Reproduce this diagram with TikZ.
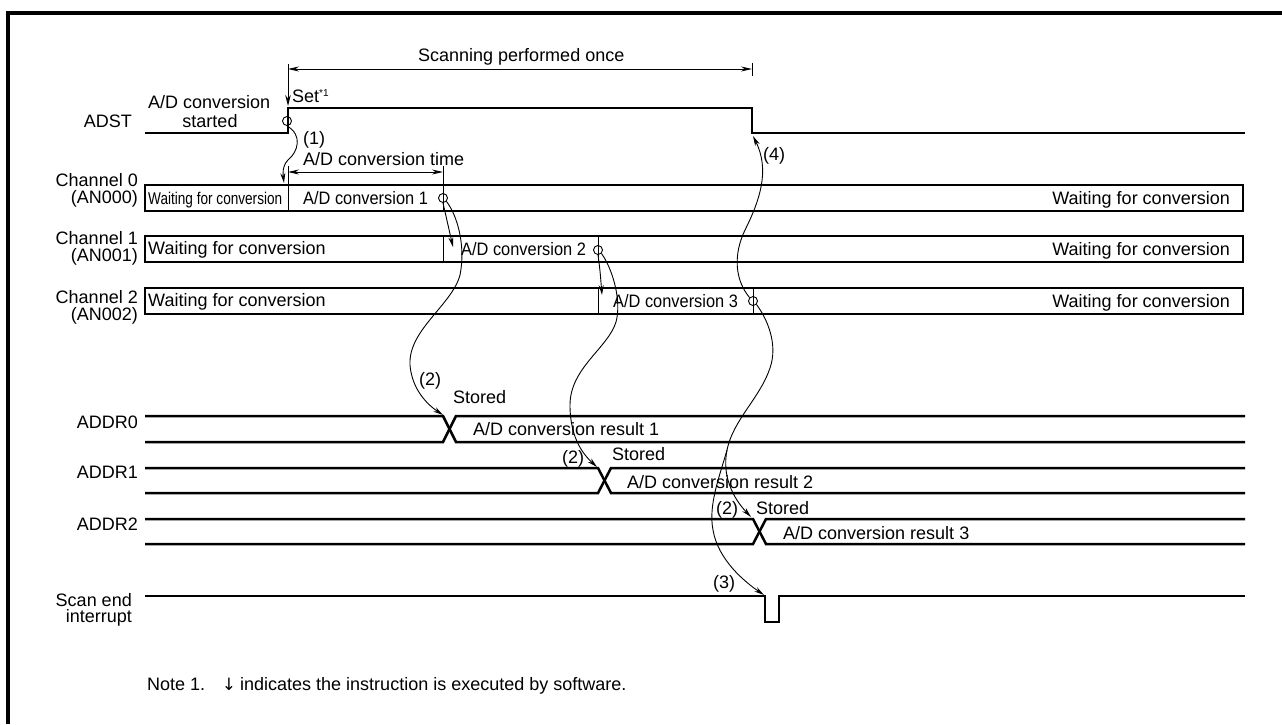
\documentclass[tikz,border=0pt]{standalone}
\usepackage{fontspec}
\usepackage{graphicx}
\setmainfont{Liberation Sans}
\newfontfamily\symfont{DejaVu Sans}
\usetikzlibrary{arrows.meta}
\begin{document}
\begin{tikzpicture}[x=1pt,y=-1pt,
  txt/.style={inner sep=0pt, font=\fontsize{18}{20}\selectfont},
  sig/.style={line width=2.8pt, line join=miter},
  sigb/.style={line width=2.5pt, line join=miter},
  boxline/.style={line width=2.6pt},
  thinline/.style={line width=0.9pt},
  arr/.style={thinline, -{Stealth[length=10pt,width=5pt]}},
  dimarr/.style={thinline, {Stealth[length=11pt,width=5pt]}-{Stealth[length=11pt,width=5pt]}},
  evt/.style={circle, draw, line width=0.9pt, minimum size=9pt, inner sep=0pt},
]
\useasboundingbox (0,0) rectangle (1282,724);
% frame
\draw[line width=4pt] (8,724) -- (8,13) -- (1282,13);

% ---- top dimension
\node[txt, anchor=base west] (scan) at (418,61) {Scanning performed once};
\coordinate (sL) at (288,69);
\coordinate (sR) at (752,69);
\draw[dimarr] (sL) -- (sR);
\draw[thinline] (752,63) -- (752,76);
\coordinate (setTop) at (288,64);
\coordinate (setTip) at (288,106);
\draw[thinline, -{Stealth[length=11pt,width=5.5pt]}] (setTop) -- (setTip);
\node[txt, anchor=base west] (set) at (292,102) {Set\raisebox{6pt}{\fontsize{10}{10}\selectfont *1}};

% ---- ADST
\node[txt, anchor=base east] (ladst) at (132,127) {ADST};
\node[txt, anchor=base west] (adc) at (148,108) {A/D conversion};
\node[txt, anchor=base] (started) at (210,127) {started};
\draw[sig] (145,133) -- (288,133) -- (288,108) -- (752,108) -- (752,133) -- (1245,133);
\node[evt] (cA) at (287,121) {};
\node[txt, anchor=base west] (n1) at (303,144) {(1)};
\node[txt, anchor=base west] (n4) at (763,160) {(4)};

% ---- conversion time
\node[txt, anchor=base west] (adtime) at (303,165) {A/D conversion time};
\draw[thinline] (288,166) -- (288,185);
\draw[dimarr] (288,172) -- (443,172);

% ---- Channel 0
\node[txt, anchor=base east] (lc0a) at (138,186) {Channel 0};
\node[txt, anchor=base east] (lc0b) at (138,203) {(AN000)};
\draw[boxline] (145,185) rectangle (1243,211);
\draw[thinline] (288,185) -- (288,211);
\draw[thinline] (443,166) -- (443,211);
\node[txt, anchor=base west] (w0) at (148,204) {\scalebox{0.8}[1]{\fontsize{17}{18}\selectfont Waiting for conversion}};
\node[txt, anchor=base west] (a1) at (303,204) {\scalebox{0.91}[1]{A/D conversion 1}};
\node[txt, anchor=base east] (w0r) at (1230,204) {Waiting for conversion};
\node[evt] (c0) at (443,198) {};

% ---- Channel 1
\node[txt, anchor=base east] (lc1a) at (138,244) {Channel 1};
\node[txt, anchor=base east] (lc1b) at (138,261) {(AN001)};
\draw[boxline] (145,236) rectangle (1243,262);
\draw[thinline] (443,236) -- (443,262);
\draw[thinline] (598,236) -- (598,262);
\node[txt, anchor=base west] (w1) at (148,254) {Waiting for conversion};
\node[txt, anchor=base west] (a2) at (461,255) {\scalebox{0.91}[1]{A/D conversion 2}};
\node[txt, anchor=base east] (w1r) at (1230,255) {Waiting for conversion};
\node[evt] (c1) at (598,250) {};

% ---- Channel 2
\node[txt, anchor=base east] (lc2a) at (138,303) {Channel 2};
\node[txt, anchor=base east] (lc2b) at (138,320) {(AN002)};
\draw[boxline] (145,288) rectangle (1243,314);
\draw[thinline] (598,288) -- (598,314);
\draw[thinline] (753,288) -- (753,314);
\node[txt, anchor=base west] (w2) at (148,306) {Waiting for conversion};
\node[txt, anchor=base west] (a3) at (613,307) {\scalebox{0.91}[1]{A/D conversion 3}};
\node[txt, anchor=base east] (w2r) at (1230,307) {Waiting for conversion};
\node[evt] (c2) at (753,301) {};

% ---- ADDR0
\node[txt, anchor=base east] (la0) at (138,428) {ADDR0};
\draw[sigb] (145,416) -- (443,416) -- (456,442) -- (1245,442);
\draw[sigb] (145,442) -- (443,442) -- (456,416) -- (1245,416);
\node[txt, anchor=base west] (st0) at (453,403) {Stored};
\node[txt, anchor=base west] (p0) at (419,385) {(2)};
\node[txt, anchor=base west] (r1) at (473,435) {A/D conversion result 1};

% ---- ADDR1
\node[txt, anchor=base east] (la1) at (138,478) {ADDR1};
\draw[sigb] (145,468) -- (598,468) -- (611,493) -- (1245,493);
\draw[sigb] (145,493) -- (598,493) -- (611,468) -- (1245,468);
\node[txt, anchor=base west] (st1) at (612,460) {Stored};
\node[txt, anchor=base west] (p1) at (562,463) {(2)};
\node[txt, anchor=base west] (r2) at (627,488) {A/D conversion result 2};

% ---- ADDR2
\node[txt, anchor=base east] (la2) at (138,530) {ADDR2};
\draw[sigb] (145,519) -- (753,519) -- (766,544) -- (1245,544);
\draw[sigb] (145,544) -- (753,544) -- (766,519) -- (1245,519);
\node[txt, anchor=base west] (st2) at (756,514) {Stored};
\node[txt, anchor=base west] (p2) at (716,514) {(2)};
\node[txt, anchor=base west] (r3) at (783,539) {A/D conversion result 3};

% ---- Scan end interrupt
\node[txt, anchor=base east] (lsa) at (132,606) {Scan end};
\node[txt, anchor=base east] (lsb) at (132,622) {interrupt};
\draw[sigb] (145,596) -- (765,596) -- (765,622) -- (779,622) -- (779,596) -- (1245,596);
\node[txt, anchor=base west] (p3) at (713,588) {(3)};

% ---- note
\node[txt, anchor=base west] (note) at (147,690) {Note 1.};
\node[txt, anchor=base, font=\symfont\fontsize{17}{18}\selectfont] (notearr) at (229,690) {↓};
\node[txt, anchor=base west] (note2) at (240,690) {indicates the instruction is executed by software.};

% ---- arrow targets
\coordinate (t1) at (284,183);
\coordinate (tc1) at (453,247);
\coordinate (ta0) at (443,415);
\coordinate (tc2) at (602,295);
\coordinate (ta1) at (597,467);
\coordinate (ta2) at (751,517);
\coordinate (ts) at (764,595);
\coordinate (tadst) at (753,136);
\coordinate (split) at (727,450);

% ---- curves
\draw[arr] (cA.south) .. controls (303,135) and (298,152) .. (288,160) .. controls (282,166) and (283,175) .. (t1);
\draw[arr] (c0.south) .. controls (448,225) .. (tc1);
\draw[arr] (c0.south east) .. controls (457,215) and (466,245) .. (460,275) .. controls (452,305) and (408,330) .. (410,365) .. controls (412,390) and (428,405) .. (ta0);
\draw[arr] (c1.south) .. controls (600,270) .. (tc2);
\draw[arr] (c1.south east) .. controls (612,268) and (622,300) .. (616,322) .. controls (608,348) and (570,368) .. (570,405) .. controls (570,440) and (585,456) .. (ta1);
\draw[arr] (c2.north west) .. controls (735,280) and (733,255) .. (745,230) .. controls (760,200) and (770,170) .. (tadst);
\draw[thinline] (c2.south east) .. controls (768,320) and (778,345) .. (770,368) .. controls (760,398) and (733,420) .. (split);
\draw[arr] (split) .. controls (722,475) and (732,497) .. (ta2);
\draw[arr] (split) .. controls (720,475) and (708,505) .. (713,530) .. controls (718,560) and (745,582) .. (ts);
\end{tikzpicture}
\end{document}
